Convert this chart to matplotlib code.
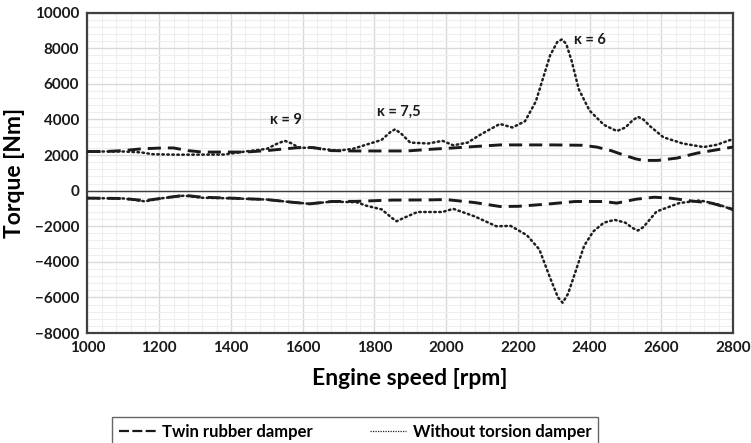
import matplotlib.pyplot as plt
import numpy as np
from matplotlib.ticker import MultipleLocator
from matplotlib.lines import Line2D

plt.rcParams['font.family'] = 'Lato'
plt.rcParams['font.weight'] = 'bold'

# Upper envelope (positive torque) and lower envelope (negative torque)
rpm_twin_up = [1000, 1050, 1100, 1150, 1210, 1240, 1280, 1320, 1440, 1500, 1550, 1590, 1630, 1680,
               1740, 1890, 1960, 2020, 2080, 2150, 2300, 2380, 2420, 2460, 2494, 2530, 2550, 2590,
               2644, 2700, 2800]
twin_up = [2200, 2200, 2250, 2350, 2400, 2400, 2250, 2170, 2170, 2250, 2350, 2420, 2420, 2250,
           2230, 2230, 2330, 2400, 2480, 2570, 2570, 2550, 2450, 2250, 2010, 1780, 1700, 1700,
           1830, 2110, 2450]

rpm_twin_low = [1000, 1100, 1160, 1210, 1270, 1320, 1400, 1500, 1570, 1620, 1680, 1750, 1850, 1950,
                2000, 2080, 2150, 2200, 2280, 2360, 2440, 2476, 2530, 2580, 2625, 2680, 2740, 2800]
twin_low = [-420, -440, -560, -420, -260, -370, -420, -500, -650, -740, -610, -600, -530, -520,
            -500, -670, -890, -880, -760, -610, -610, -700, -480, -370, -420, -570, -700, -1050]

rpm_wo_up = [1000, 1100, 1150, 1180, 1250, 1380, 1440, 1500, 1530, 1550, 1570, 1590, 1620, 1650,
             1700, 1740, 1780, 1820, 1845, 1858, 1875, 1900, 1950, 1990, 2020, 2060, 2100, 2150,
             2185, 2220, 2250, 2270, 2290, 2310, 2323, 2335, 2350, 2370, 2400, 2440, 2476, 2500,
             2520, 2535, 2550, 2570, 2606, 2660, 2718, 2755, 2800]
wo_up = [2200, 2200, 2150, 2050, 2020, 2030, 2200, 2350, 2650, 2800, 2650, 2400, 2420, 2350,
         2250, 2350, 2600, 2850, 3300, 3450, 3200, 2700, 2650, 2800, 2550, 2700, 3200, 3750,
         3550, 3900, 5000, 6300, 7600, 8350, 8500, 8250, 7300, 5700, 4500, 3700, 3350, 3550,
         3950, 4150, 4000, 3600, 3000, 2650, 2450, 2580, 2900]

rpm_wo_low = [1000, 1100, 1160, 1210, 1270, 1320, 1400, 1500, 1570, 1620, 1680, 1750, 1780, 1820,
              1850, 1862, 1880, 1920, 1990, 2020, 2080, 2140, 2180, 2225, 2260, 2290, 2312, 2325,
              2340, 2360, 2385, 2410, 2440, 2470, 2500, 2520, 2535, 2550, 2587, 2650, 2708, 2760, 2800]
wo_low = [-420, -440, -600, -420, -280, -400, -430, -500, -650, -740, -620, -650, -860, -1050,
          -1550, -1720, -1550, -1200, -1200, -1020, -1450, -2000, -1980, -2500, -3300, -4900, -6000, -6300,
          -5800, -4600, -3100, -2300, -1800, -1640, -1800, -2100, -2240, -2050, -1170, -700, -550, -780, -1080]

orders = ['κ = 9', 'κ = 7,5', 'κ = 6']
order_rpm = [1552, 1868, 2400]
order_torque = [3980, 4430, 8480]

fig = plt.figure(figsize=(7.51, 4.43), dpi=100)
ax = fig.add_axes([0.1165, 0.2483, 0.8595, 0.723])

dash_kw = dict(color='#1a1a1a', lw=2.1, dashes=(4.5, 2.4))
dot_kw = dict(color='#1f1f1f', lw=1.8, linestyle=(0, (0.6, 1.4)), dash_capstyle='round')

ax.plot(rpm_twin_up, twin_up, **dash_kw, zorder=4)
ax.plot(rpm_twin_low, twin_low, **dash_kw, zorder=4)
ax.plot(rpm_wo_up, wo_up, **dot_kw, zorder=5)
ax.plot(rpm_wo_low, wo_low, **dot_kw, zorder=5)

ax.axhline(0, color='#404040', lw=1.0, zorder=3)

for txt, xr, yt in zip(orders, order_rpm, order_torque):
    ax.text(xr, yt, txt, ha='center', va='center', fontsize=10.5, fontweight='bold', color='#1a1a1a')

ax.set_xlim(1000, 2800)
ax.set_ylim(-8000, 10000)
ax.xaxis.set_major_locator(MultipleLocator(200))
ax.xaxis.set_minor_locator(MultipleLocator(40))
ax.yaxis.set_major_locator(MultipleLocator(2000))
ax.yaxis.set_minor_locator(MultipleLocator(400))
ax.grid(which='major', color='#d9d9d9', lw=1.0, zorder=0)
ax.grid(which='minor', color='#eeeeee', lw=0.8, zorder=0)
ax.set_axisbelow(True)
ax.tick_params(which='both', length=0)
ax.tick_params(axis='both', labelsize=11, colors='#1a1a1a', pad=6)
for lab in ax.get_xticklabels() + ax.get_yticklabels():
    lab.set_fontweight('bold')

for sp in ax.spines.values():
    sp.set_color('#404040')
    sp.set_linewidth(1.6)

ax.set_xlabel('Engine speed [rpm]', fontsize=16.5, fontweight='bold', labelpad=9)
ax.set_ylabel('Torque [Nm]', fontsize=16.5, fontweight='bold', labelpad=7)

handles = [Line2D([0], [0], color='#1a1a1a', lw=1.6, dashes=(4.5, 1.5), label='Twin rubber damper'),
           Line2D([0], [0], color='#1f1f1f', lw=0.9, linestyle=(0, (1, 1)), label='Without torsion damper')]
leg = fig.legend(handles=handles, loc='upper center', bbox_to_anchor=(0.473, 0.077), ncol=2,
                 frameon=True, fancybox=False, edgecolor='#404040', fontsize=12,
                 handlelength=2.2, handletextpad=0.4, columnspacing=3.4, borderpad=0.4)
leg.get_frame().set_linewidth(1.0)
for t in leg.get_texts():
    t.set_fontweight('bold')

fig.savefig('out.png', dpi=100)
